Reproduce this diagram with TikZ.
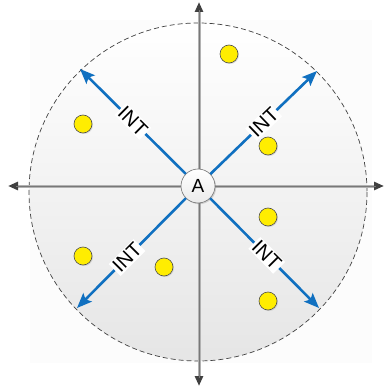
\documentclass[tikz,border=0pt]{standalone}
\usepackage{fontspec}
\setmainfont{Liberation Sans}
\usetikzlibrary{arrows.meta,shadows}
\definecolor{intblue}{RGB}{16,112,192}
\definecolor{axisgray}{RGB}{120,120,120}
\tikzset{
  dot/.style={circle,minimum size=18pt,inner sep=0pt,fill=yellow!95!orange,draw=black!70,line width=0.6pt,
    drop shadow={opacity=0.25,shadow xshift=1pt,shadow yshift=-1pt}},
  centre/.style={circle,minimum size=34pt,inner sep=0pt,draw=black!55,line width=0.6pt,
    top color=white,bottom color=black!8,font=\fontsize{19}{19}\selectfont,
    drop shadow={opacity=0.3,shadow xshift=1.2pt,shadow yshift=-1.2pt}},
  intarrow/.style={draw=intblue,line width=2.6pt,-{Stealth[length=15pt,width=12pt,inset=3pt]}},
  intlabel/.style={fill=white,inner sep=1.5pt,sloped,font=\fontsize{20}{20}\selectfont},
  axis/.style={line width=3pt,draw=black!30,
    {Triangle[length=10pt,width=8pt,color=black!75,fill=black!75]}-{Triangle[length=10pt,width=8pt,color=black!75,fill=black!75]}},
  axiscore/.style={line width=1pt,draw=axisgray,shorten >=8pt,shorten <=8pt},
}
\begin{document}
\begin{tikzpicture}[x=1pt,y=-1pt]
\useasboundingbox (0,0) rectangle (384,390);
% faint background
\fill[black!1] (30,20) rectangle (372,363);
% disc
\shade[top color=white,bottom color=black!10] (198,192) circle (169);
\draw[black!75,line width=0.7pt,dash pattern=on 5pt off 3pt] (198,192) circle (169);
% axes
\coordinate (L) at (8,186);
\coordinate (R) at (384,186);
\coordinate (T) at (199,2);
\coordinate (B) at (199,386);
\draw[axis] (L) -- (R);
\draw[axis] (T) -- (B);
\draw[axiscore] (L) -- (R);
\draw[axiscore] (T) -- (B);
% dots
\node[dot] (d1) at (229,54) {};
\node[dot] (d2) at (83,124) {};
\node[dot] (d3) at (268,146) {};
\node[dot] (d4) at (268,217) {};
\node[dot] (d5) at (83,256) {};
\node[dot] (d6) at (164,267) {};
\node[dot] (d7) at (268,301) {};
% centre
\node[centre] (A) at (198,186) {A};
\coordinate (ne) at (317,71);
\coordinate (nw) at (80,69);
\coordinate (sw) at (77,308);
\coordinate (se) at (319,308);
\draw[intarrow] (A) -- node[intlabel,pos=0.5] {INT} (ne);
\draw[intarrow] (A) -- node[intlabel,pos=0.5] {INT} (nw);
\draw[intarrow] (A) -- node[intlabel,pos=0.54] {INT} (sw);
\draw[intarrow] (A) -- node[intlabel,pos=0.52] {INT} (se);
\end{tikzpicture}
\end{document}
